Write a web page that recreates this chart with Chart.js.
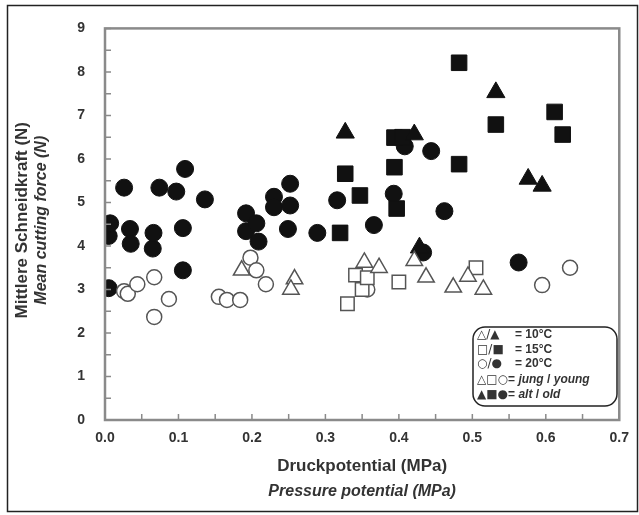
<!DOCTYPE html>
<html>
<head>
<meta charset="utf-8">
<script src="https://cdn.jsdelivr.net/npm/chart.js@4"></script>
<style>
  html, body { margin: 0; padding: 0; background: #fff; }
  #wrap { width: 639px; height: 515px; }
</style>
</head>
<body>
<div id="wrap"><canvas id="cutChart" width="639" height="515"></canvas></div>
<script>
// Druckpotential (MPa) vs. mittlere Schneidkraft (N)
const young10 = [[0.186, 3.44], [0.258, 3.24], [0.253, 3.0], [0.353, 3.62], [0.373, 3.5],
                 [0.421, 3.66], [0.437, 3.28], [0.474, 3.05], [0.494, 3.3], [0.515, 3.0]];
const old10   = [[0.327, 6.6], [0.421, 6.56], [0.428, 3.96], [0.532, 7.53], [0.576, 5.54], [0.595, 5.38]];

const young15 = [[0.33, 2.67], [0.341, 3.33], [0.35, 3.0], [0.357, 3.27], [0.4, 3.17], [0.505, 3.5]];
const old15   = [[0.482, 8.21], [0.327, 5.66], [0.347, 5.16], [0.32, 4.3], [0.394, 6.49], [0.405, 6.5],
                 [0.394, 5.81], [0.397, 4.86], [0.482, 5.88], [0.532, 6.79], [0.612, 7.08], [0.623, 6.56]];

const young20 = [[0.026, 2.96], [0.031, 2.9], [0.044, 3.12], [0.067, 3.28], [0.087, 2.78], [0.067, 2.37],
                 [0.155, 2.83], [0.166, 2.76], [0.184, 2.76], [0.198, 3.73], [0.206, 3.44], [0.219, 3.12],
                 [0.357, 3.0], [0.595, 3.1], [0.633, 3.5]];
const old20   = [[0.005, 4.23], [0.007, 4.52], [0.005, 3.03], [0.026, 5.34], [0.034, 4.39], [0.035, 4.05],
                 [0.065, 3.94], [0.066, 4.3], [0.074, 5.34], [0.097, 5.25], [0.109, 5.77], [0.106, 4.41],
                 [0.106, 3.44], [0.136, 5.07], [0.192, 4.75], [0.192, 4.34], [0.206, 4.52], [0.209, 4.1],
                 [0.23, 5.13], [0.23, 4.89], [0.252, 5.43], [0.252, 4.93], [0.249, 4.39], [0.289, 4.3],
                 [0.316, 5.05], [0.366, 4.48], [0.393, 5.2], [0.408, 6.29], [0.444, 6.18], [0.462, 4.8],
                 [0.433, 3.85], [0.563, 3.62]];

const xTicks = [0, 0.1, 0.2, 0.3, 0.4, 0.5, 0.6, 0.7];
const yTicks = [0, 1, 2, 3, 4, 5, 6, 7, 8, 9];

const toPts = arr => arr.map(p => ({ x: p[0], y: p[1] }));
const TEXT = '#333';
const FONT = '"Liberation Sans", Arial, sans-serif';

function openSet(label, arr, style, r) {
    return { label, data: toPts(arr), pointStyle: style, pointRadius: r, pointHoverRadius: r,
             backgroundColor: '#fff', borderColor: '#555', borderWidth: 1.5 };
}
function filledSet(label, arr, style, r) {
    return { label, data: toPts(arr), pointStyle: style, pointRadius: r, pointHoverRadius: r,
             backgroundColor: '#111', borderColor: '#111', borderWidth: 1 };
}

// frame, inward ticks, axis titles and legend box
const decorPlugin = {
    id: 'decor',
    afterDraw(chart) {
        const ctx = chart.ctx;
        const a = chart.chartArea;
        const xs = chart.scales.x, ys = chart.scales.y;
        ctx.save();

        // outer frame
        ctx.strokeStyle = '#222';
        ctx.lineWidth = 1.5;
        ctx.strokeRect(7.5, 5.5, 630, 506);

        // plot box
        ctx.strokeStyle = '#8a8a8a';
        ctx.lineWidth = 2.5;
        ctx.strokeRect(a.left, a.top, a.right - a.left, a.bottom - a.top);

        // inward ticks
        ctx.lineWidth = 1.5;
        ctx.beginPath();
        for (let v = 0; v <= 0.7001; v += 0.05) {
            const px = xs.getPixelForValue(v);
            ctx.moveTo(px, a.bottom);
            ctx.lineTo(px, a.bottom - 6);
        }
        for (let v = 0; v <= 9.001; v += 0.5) {
            const py = ys.getPixelForValue(v);
            ctx.moveTo(a.left, py);
            ctx.lineTo(a.left + 6, py);
        }
        ctx.stroke();

        // axis titles
        ctx.fillStyle = TEXT;
        ctx.textAlign = 'center';
        ctx.textBaseline = 'middle';
        const cx = (a.left + a.right) / 2;
        ctx.font = 'bold 17px ' + FONT;
        ctx.fillText('Druckpotential (MPa)', cx, 466);
        ctx.font = 'italic bold 16px ' + FONT;
        ctx.fillText('Pressure potential (MPa)', cx, 492);

        const cy = (a.top + a.bottom) / 2 - 4;
        ctx.save();
        ctx.translate(22, cy);
        ctx.rotate(-Math.PI / 2);
        ctx.font = 'bold 17px ' + FONT;
        ctx.fillText('Mittlere Schneidkraft (N)', 0, 0);
        ctx.font = 'italic bold 16px ' + FONT;
        ctx.fillText('Mean cutting force (N)', 0, 20);
        ctx.restore();

        // legend
        const bx = 473, by = 327, bw = 144, bh = 79;
        ctx.strokeStyle = '#222';
        ctx.lineWidth = 1.5;
        ctx.beginPath();
        ctx.roundRect(bx, by, bw, bh, 12);
        ctx.fillStyle = '#fff';
        ctx.fill();
        ctx.stroke();

        ctx.fillStyle = TEXT;
        ctx.textAlign = 'left';
        const sym = '"DejaVu Sans", sans-serif';
        const rows = [
            ['\u25B3/\u25B2', '10\u00B0C', null],
            ['\u25A1/\u25A0', '15\u00B0C', null],
            ['\u25CB/\u25CF', '20\u00B0C', null],
            ['\u25B3\u25A1\u25CB', 'jung', 'young'],
            ['\u25B2\u25A0\u25CF', 'alt', 'old']
        ];
        const rowY = [335, 350, 364, 380, 395];
        rows.forEach((r, i) => {
            const y = rowY[i];
            ctx.font = '12px ' + sym;
            ctx.fillText(r[0], 477, y);
            const w = ctx.measureText(r[0]).width;
            if (r[2]) {
                let px = 477 + w;
                ctx.font = 'bold 12px ' + FONT;
                ctx.fillText('= ', px, y);
                px += ctx.measureText('= ').width;
                ctx.font = 'italic bold 12px ' + FONT;
                ctx.fillText(r[1], px, y);
                px += ctx.measureText(r[1]).width;
                ctx.font = 'bold 12px ' + FONT;
                ctx.fillText(' / ', px, y);
                px += ctx.measureText(' / ').width;
                ctx.font = 'italic bold 12px ' + FONT;
                ctx.fillText(r[2], px, y);
            } else {
                ctx.font = 'bold 12px ' + FONT;
                ctx.fillText('= ' + r[1], 515, y);
            }
        });

        ctx.restore();
    }
};

const ctx = document.getElementById('cutChart').getContext('2d');
new Chart(ctx, {
    type: 'scatter',
    data: {
        datasets: [
            openSet('10°C jung', young10, 'triangle', 9.5),
            openSet('15°C jung', young15, 'rect', 9.5),
            openSet('20°C jung', young20, 'circle', 7.5),
            filledSet('10°C alt', old10, 'triangle', 10.5),
            filledSet('15°C alt', old15, 'rect', 11),
            filledSet('20°C alt', old20, 'circle', 8.5)
        ]
    },
    options: {
        responsive: false,
        animation: false,
        layout: { padding: { left: 0, right: 15, top: 22, bottom: 0 } },
        plugins: {
            legend: { display: false },
            tooltip: { enabled: false }
        },
        scales: {
            x: {
                type: 'linear',
                min: 0, max: 0.7,
                afterFit(scale) { scale.height = 95; },
                afterBuildTicks(scale) { scale.ticks = xTicks.map(v => ({ value: v })); },
                grid: { display: false, drawTicks: false },
                border: { display: false },
                ticks: {
                    padding: 10,
                    color: TEXT,
                    font: { family: FONT, size: 14, weight: 'bold' },
                    callback: v => v.toFixed(1),
                    autoSkip: false,
                    maxRotation: 0
                }
            },
            y: {
                type: 'linear',
                min: 0, max: 9,
                afterFit(scale) { scale.width = 105; },
                afterBuildTicks(scale) { scale.ticks = yTicks.map(v => ({ value: v })); },
                grid: { display: false, drawTicks: false },
                border: { display: false },
                ticks: {
                    padding: 20,
                    color: TEXT,
                    font: { family: FONT, size: 14, weight: 'bold' },
                    autoSkip: false
                }
            }
        }
    },
    plugins: [decorPlugin]
});
</script>
</body>
</html>
